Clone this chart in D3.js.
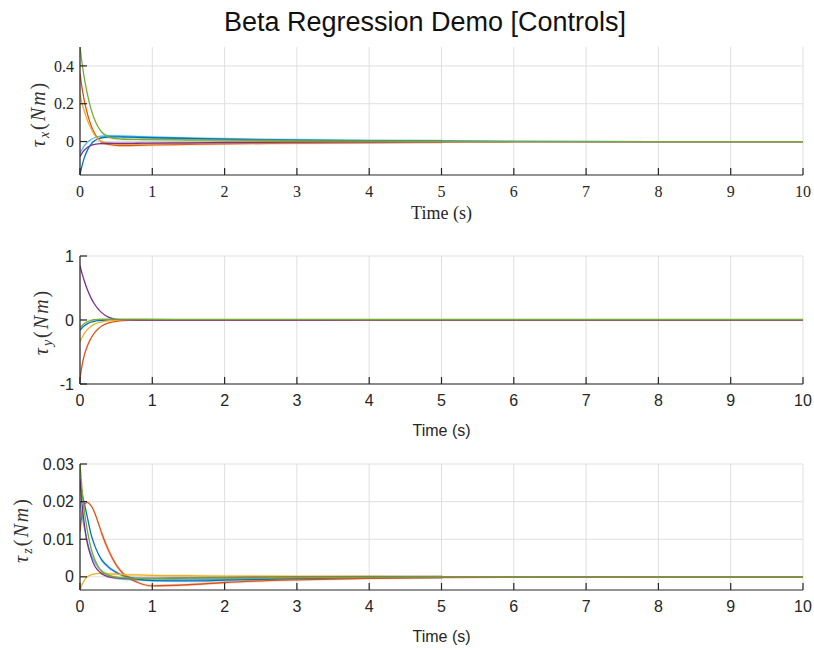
<!DOCTYPE html>
<html>
<head>
<meta charset="utf-8">
<script src="https://cdn.jsdelivr.net/npm/d3@7"></script>
<style>
  html, body { margin: 0; padding: 0; background: #fff; }
  svg { display: block; }
</style>
</head>
<body>
<svg id="chart" width="814" height="652"></svg>
<script>
// Sample times (s) shared by all control traces
const time = [0, 0.03, 0.06, 0.1, 0.15, 0.2, 0.25, 0.3, 0.4, 0.5, 0.6, 0.8, 1, 1.5, 2, 3, 4, 5, 6, 8, 10];

// tau_x traces (N m)
const tauX = {
  cyan:   [-0.06, -0.04, -0.022, -0.005, 0.01, 0.02, 0.026, 0.029, 0.031, 0.03, 0.029, 0.026, 0.023, 0.018, 0.014, 0.008, 0.005, 0.003, 0.001, 0, 0],
  blue:   [-0.177, -0.125, -0.085, -0.048, -0.015, 0.004, 0.014, 0.02, 0.024, 0.025, 0.024, 0.022, 0.02, 0.016, 0.012, 0.007, 0.004, 0.002, 0.001, 0, 0],
  orange: [0.36, 0.28, 0.215, 0.15, 0.088, 0.045, 0.015, -0.003, -0.015, -0.02, -0.021, -0.02, -0.018, -0.015, -0.012, -0.008, -0.005, -0.003, -0.001, 0, 0],
  yellow: [0.25, 0.2, 0.16, 0.115, 0.07, 0.035, 0.012, 0, -0.009, -0.012, -0.013, -0.013, -0.012, -0.01, -0.008, -0.005, -0.003, -0.002, -0.001, 0, 0],
  purple: [-0.08, -0.06, -0.045, -0.032, -0.021, -0.015, -0.012, -0.011, -0.01, -0.01, -0.01, -0.009, -0.008, -0.007, -0.005, -0.003, -0.002, -0.001, 0, 0, 0],
  green:  [0.5, 0.41, 0.335, 0.255, 0.175, 0.118, 0.078, 0.05, 0.024, 0.015, 0.012, 0.011, 0.01, 0.008, 0.007, 0.004, 0.002, 0.001, 0, 0, 0]
};

// tau_y traces (N m)
const tauY = {
  blue:   [-0.16, -0.12, -0.09, -0.06, -0.035, -0.02, -0.01, -0.004, 0, 0, 0, 0, 0, 0, 0, 0, 0, 0, 0, 0, 0],
  orange: [-0.91, -0.7, -0.55, -0.41, -0.29, -0.2, -0.14, -0.095, -0.045, -0.02, -0.008, -0.001, 0, 0, 0, 0, 0, 0, 0, 0, 0],
  yellow: [-0.34, -0.27, -0.21, -0.15, -0.1, -0.065, -0.043, -0.028, -0.012, -0.004, -0.001, 0, 0, 0, 0, 0, 0, 0, 0, 0, 0],
  purple: [0.85, 0.72, 0.61, 0.48, 0.35, 0.25, 0.175, 0.115, 0.04, 0.01, 0.002, 0, 0, 0, 0, 0, 0, 0, 0, 0, 0],
  green:  [-0.12, -0.085, -0.055, -0.028, -0.008, 0.004, 0.01, 0.013, 0.015, 0.015, 0.014, 0.013, 0.012, 0.011, 0.01, 0.009, 0.008, 0.008, 0.008, 0.008, 0.008]
};

// tau_z traces (N m)
const tauZ = {
  cyan:   [0.02, 0.016, 0.013, 0.0095, 0.0062, 0.004, 0.0025, 0.0015, 0.0003, -0.0003, -0.0006, -0.0008, -0.0009, -0.0008, -0.0007, -0.0004, -0.0002, -0.0001, 0, 0, 0],
  blue:   [0.0253, 0.022, 0.0195, 0.016, 0.0115, 0.0085, 0.0062, 0.0045, 0.0025, 0.0012, 0.0003, -0.0006, -0.001, -0.0011, -0.0009, -0.0005, -0.0002, -0.0001, 0, 0, 0],
  orange: [0.012, 0.017, 0.0192, 0.0198, 0.019, 0.0172, 0.0145, 0.0116, 0.0068, 0.0032, 0.0008, -0.0015, -0.0024, -0.0021, -0.0015, -0.0008, -0.0004, -0.0002, -0.0001, 0, 0],
  yellow: [-0.0035, -0.002, -0.0009, 0, 0.0005, 0.0008, 0.0009, 0.0009, 0.0008, 0.0007, 0.0006, 0.0005, 0.0004, 0.0003, 0.0002, 0.0001, 0.0001, 0, 0, 0, 0],
  purple: [0.026, 0.019, 0.014, 0.009, 0.0055, 0.003, 0.0017, 0.0008, 0, -0.0003, -0.0004, -0.0004, -0.0004, -0.0003, -0.0002, -0.0001, 0, 0, 0, 0, 0],
  green:  [0.03, 0.023, 0.0175, 0.0125, 0.0078, 0.0048, 0.0028, 0.0015, 0.0004, -0.0001, -0.0003, -0.0004, -0.0004, -0.0003, -0.0003, -0.0002, -0.0001, 0, 0, 0, 0]
};

const xTicks = [0, 1, 2, 3, 4, 5, 6, 7, 8, 9, 10];
const yTicksX = [0, 0.2, 0.4];
const yTicksY = [-1, 0, 1];
const yTicksZ = [0, 0.01, 0.02, 0.03];

const colors = {
  blue: "#0072BD", orange: "#D95319", yellow: "#EDB120",
  purple: "#7E2F8E", green: "#77AC30", cyan: "#4DBEEE"
};

const svg = d3.select("#chart");
const serif = "'Liberation Serif', 'DejaVu Serif', serif";
const sans = "'Liberation Sans', Arial, sans-serif";

svg.append("text")
  .attr("x", 425).attr("y", 31)
  .attr("text-anchor", "middle")
  .attr("font-family", sans).attr("font-size", 27).attr("fill", "#111")
  .text("Beta Regression Demo [Controls]");

const x0 = 80, x1 = 803;

const panels = [
  { data: tauX, top: 47, bottom: 175, domain: [-0.177, 0.5], ticks: yTicksX,
    tickFmt: d => d === 0 ? "0" : String(d), font: serif, fs: 16,
    sub: "x", labelX: 45, labelY: 114, xlabY: 219, fuzz: true },
  { data: tauY, top: 256, bottom: 384, domain: [-1, 1], ticks: yTicksY,
    tickFmt: d => String(d), font: sans, fs: 16,
    sub: "y", labelX: 48, labelY: 322, xlabY: 436, fuzz: false },
  { data: tauZ, top: 464, bottom: 590, domain: [-0.0035, 0.03], ticks: yTicksZ,
    tickFmt: d => d === 0 ? "0" : String(d), font: sans, fs: 16,
    sub: "z", labelX: 28, labelY: 530, xlabY: 642, fuzz: true }
];

const order = ["cyan", "blue", "orange", "yellow", "purple", "green"];
const gen = d3.line().x(d => d.x).y(d => d.y).curve(d3.curveMonotoneX);

panels.forEach((p, i) => {
  const xs = d3.scaleLinear().domain([0, 10]).range([x0, x1]);
  const ys = d3.scaleLinear().domain(p.domain).range([p.bottom, p.top]);
  const g = svg.append("g");

  // grid
  g.append("g").selectAll("line").data(xTicks).join("line")
    .attr("x1", d => xs(d)).attr("x2", d => xs(d))
    .attr("y1", p.top).attr("y2", p.bottom)
    .attr("stroke", "#dfdfdf").attr("stroke-width", 1);
  g.append("g").selectAll("line").data(p.ticks).join("line")
    .attr("x1", x0).attr("x2", x1)
    .attr("y1", d => ys(d)).attr("y2", d => ys(d))
    .attr("stroke", "#dfdfdf").attr("stroke-width", 1);

  // traces
  const clipId = "clip" + i;
  svg.append("defs").append("clipPath").attr("id", clipId)
    .append("rect").attr("x", x0).attr("y", p.top)
    .attr("width", x1 - x0).attr("height", p.bottom - p.top);
  const lines = g.append("g").attr("clip-path", `url(#${clipId})`);

  order.forEach(k => {
    if (!p.data[k]) return;
    const pts = time.map((t, j) => ({ t, x: xs(t), y: ys(p.data[k][j]) }));
    if (p.fuzz) {
      // faint halo where the sampled signal is noisy
      const band = pts.filter(d => d.t >= 0.3 && d.t <= 5);
      lines.append("path").attr("d", gen(band))
        .attr("fill", "none").attr("stroke", colors[k])
        .attr("stroke-width", 3).attr("stroke-opacity", 0.18)
        .attr("stroke-linecap", "round");
    }
    lines.append("path").attr("d", gen(pts))
      .attr("fill", "none").attr("stroke", colors[k])
      .attr("stroke-width", 1.3);
  });

  // axes lines
  g.append("line").attr("x1", x0).attr("x2", x0).attr("y1", p.top).attr("y2", p.bottom)
    .attr("stroke", "#262626").attr("stroke-width", 1.2);
  g.append("line").attr("x1", x0).attr("x2", x1).attr("y1", p.bottom).attr("y2", p.bottom)
    .attr("stroke", "#262626").attr("stroke-width", 1.2);

  // ticks (inward)
  g.append("g").selectAll("line").data(xTicks).join("line")
    .attr("x1", d => xs(d)).attr("x2", d => xs(d))
    .attr("y1", p.bottom).attr("y2", p.bottom - 7)
    .attr("stroke", "#262626").attr("stroke-width", 1.2);
  g.append("g").selectAll("line").data(p.ticks).join("line")
    .attr("x1", x0).attr("x2", x0 + 7)
    .attr("y1", d => ys(d)).attr("y2", d => ys(d))
    .attr("stroke", "#262626").attr("stroke-width", 1.2);

  // tick labels
  g.append("g").selectAll("text").data(xTicks).join("text")
    .attr("x", d => xs(d)).attr("y", p.bottom + 22)
    .attr("text-anchor", "middle")
    .attr("font-family", p.font).attr("font-size", p.fs).attr("fill", "#262626")
    .text(d => String(d));
  g.append("g").selectAll("text").data(p.ticks).join("text")
    .attr("x", x0 - 6).attr("y", d => ys(d)).attr("dy", "0.35em")
    .attr("text-anchor", "end")
    .attr("font-family", p.font).attr("font-size", p.fs).attr("fill", "#262626")
    .text(p.tickFmt);

  // x label
  g.append("text").attr("x", (x0 + x1) / 2).attr("y", p.xlabY)
    .attr("text-anchor", "middle")
    .attr("font-family", i === 0 ? serif : sans).attr("font-size", i === 0 ? 18 : 16)
    .attr("fill", "#262626")
    .text("Time (s)");

  // y label
  const yl = g.append("text")
    .attr("transform", `translate(${p.labelX},${p.labelY}) rotate(-90)`)
    .attr("text-anchor", "middle")
    .attr("font-family", serif).attr("font-size", 20).attr("fill", "#333")
    .attr("letter-spacing", 2);
  yl.append("tspan").attr("font-style", "italic").text("τ");
  yl.append("tspan").attr("font-style", "italic").attr("font-size", 14).attr("dy", 4).text(p.sub);
  yl.append("tspan").attr("dy", -4).text("(");
  yl.append("tspan").attr("font-style", "italic").text("Nm");
  yl.append("tspan").text(")");
});
</script>
</body>
</html>
